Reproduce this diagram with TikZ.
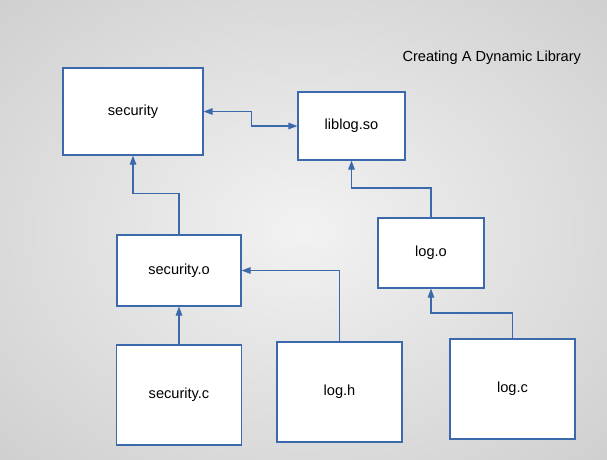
\documentclass[tikz,border=0pt]{standalone}
\usepackage{fontspec}
\setmainfont{Liberation Sans}
\usetikzlibrary{arrows.meta}
\definecolor{boxline}{RGB}{60,104,172}
\definecolor{bgin}{RGB}{242,242,242}
\definecolor{bgout}{RGB}{172,172,172}
\pgfdeclareradialshading{backdrop}{\pgfpoint{0bp}{0bp}}{
  color(0bp)=(bgin); color(72bp)=(bgout)}
\tikzset{
  >={Triangle[length=9pt,width=6.5pt]},
  file/.style={draw=boxline, line width=1.1pt, fill=white, inner sep=0pt,
    font=\fontsize{14.6}{17}\selectfont},
  link/.style={draw=boxline, line width=1.1pt, ->}
}

\begin{document}
\begin{tikzpicture}[x=1pt, y=-1pt]
  \useasboundingbox (0,0) rectangle (607,459);
  \shade[shading=backdrop] (0,0) rectangle (607,459);

  \node[font=\fontsize{14.6}{17}\selectfont] at (491.8,58) (title) {Creating A Dynamic Library};

  \node[file, minimum width=140pt, minimum height=87pt] at (133,111.5) (security) {security};
  \node[file, minimum width=107pt, minimum height=68pt] at (351.5,126) (liblog) {liblog.so};
  \node[file, minimum width=124pt, minimum height=71pt] at (179,270.5) (secobj) {security.o};
  \node[file, minimum width=106pt, minimum height=70pt] at (431,253) (logobj) {log.o};
  \node[file, minimum width=125pt, minimum height=100pt] at (179,395) (secsrc) {security.c};
  \node[file, minimum width=125pt, minimum height=100pt] at (339.5,392) (logh) {log.h};
  \node[file, minimum width=125pt, minimum height=100pt] at (512.5,389) (logc) {log.c};

  \draw[link, <->] (security.east) -- ++(48,0) |- (liblog.west);
  \draw[link] (secobj.north) -- ++(0,-41) -| (security.south);
  \draw[link] (logobj.north) -- ++(0,-29.5) -| (liblog.south);
  \draw[link] (secsrc.north) -- (secobj.south);
  \draw[link] (logh.north) |- (secobj.east);
  \draw[link] (logc.north) -- ++(0,-25.5) -| (logobj.south);

\end{tikzpicture}
\end{document}
